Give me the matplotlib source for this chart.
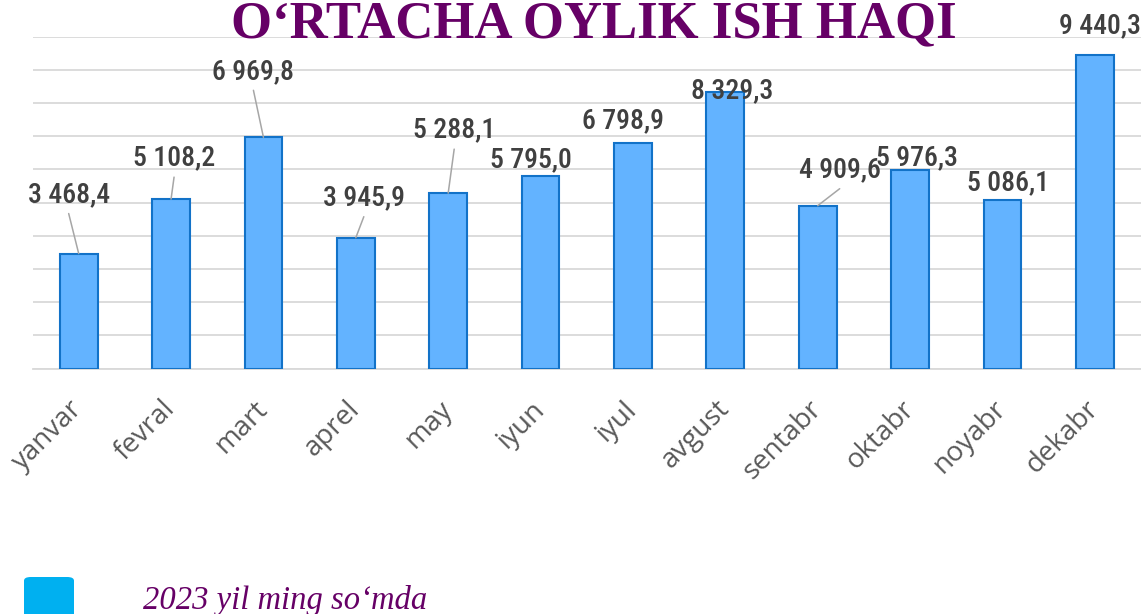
import matplotlib
matplotlib.use("Agg")
import matplotlib.pyplot as plt
from matplotlib import font_manager
from matplotlib.patches import FancyBboxPatch

months = ["yanvar", "fevral", "mart", "aprel", "may", "iyun",
          "iyul", "avgust", "sentabr", "oktabr", "noyabr", "dekabr"]
values = [3468.4, 5108.2, 6969.8, 3945.9, 5288.1, 5795.0,
          6798.9, 8329.3, 4909.6, 5976.3, 5086.1, 9440.3]
value_labels = ["3 468,4", "5 108,2", "6 969,8", "3 945,9", "5 288,1", "5 795,0",
                "6 798,9", "8 329,3", "4 909,6", "5 976,3", "5 086,1", "9 440,3"]
title = "O‘RTACHA OYLIK ISH HAQI"
legend_text = "2023 yil ming so‘mda"

# label placement (pixel offsets from bar top centre) and leader flags - style only
label_offsets = [(-10, 59), (3, 41), (-10, 66), (8, 40), (6, 63), (-10, 17),
                 (-10, 22), (7, 1), (22, 36), (7, 13), (6, 17), (5, 30)]
leaders = [True, True, True, True, True, False,
           False, False, True, False, False, False]

names = {f.name for f in font_manager.fontManager.ttflist}
cond = None
for cand in ["Roboto Condensed", "DejaVu Sans Condensed", "Liberation Sans Narrow",
             "Open Sans Condensed", "Noto Sans Condensed"]:
    if cand in names:
        cond = cand
        break
label_family = cond if cond else "Roboto"
label_size = 20 if cond else 16

W, H = 1141, 614
fig = plt.figure(figsize=(W / 100, H / 100), dpi=100)
ax = fig.add_axes([32.5 / W, 1 - 368.7 / H, (1141 - 32.5) / W, (368.7 - 36.7) / H])

x = list(range(len(months)))
ax.bar(x, values, width=0.41, color="#63B3FF", edgecolor="#1272C8", linewidth=1.5, zorder=3)

ax.set_xlim(-0.5, len(months) - 0.5)
ax.set_ylim(0, 10000)
ax.set_yticks(range(0, 10001, 1000))
ax.yaxis.grid(True, color="#D9D9D9", linewidth=1.3, zorder=0)
ax.tick_params(axis="y", left=False, labelleft=False)
ax.tick_params(axis="x", length=0, pad=26)
for s in ["top", "right", "left"]:
    ax.spines[s].set_visible(False)
ax.spines["bottom"].set_color("#D9D9D9")
ax.spines["bottom"].set_linewidth(1.3)
ax.set_xticks(x)
ax.set_xticklabels(months, rotation=45, ha="right", va="center", rotation_mode="anchor",
                   fontsize=20, color="#595959", family=["Open Sans", "DejaVu Sans"])
ax.set_axisbelow(True)

for i, (v, lab) in enumerate(zip(values, value_labels)):
    dx, dy = label_offsets[i]
    ax.annotate(lab, xy=(i, v), xytext=(dx, dy), textcoords="offset pixels",
                ha="center", va="center", fontsize=label_size, color="#404040",
                fontweight="medium",
                family=[label_family, "DejaVu Sans"], zorder=5, annotation_clip=False)
    if leaders[i]:
        ax.annotate("", xy=(i, v), xytext=(dx, dy - 19), textcoords="offset pixels",
                    arrowprops=dict(arrowstyle="-", color="#A6A6A6", lw=1.1,
                                    shrinkA=0, shrinkB=0), zorder=4, annotation_clip=False)

fig.text(594 / W, 1 - 37 / H, title, ha="center", va="baseline", fontsize=38,
         fontweight="bold", color="#660066", family=["Liberation Serif", "DejaVu Serif"])

sq = FancyBboxPatch((24 / W, 1 - 627 / H), 50 / W, 50 / H, transform=fig.transFigure,
                    boxstyle="round,pad=0,rounding_size=0.006", facecolor="#00B0F0",
                    edgecolor="none")
fig.patches.append(sq)
fig.text(143 / W, 1 - 609 / H, legend_text, ha="left", va="baseline", fontsize=23.5,
         style="italic", color="#660066", family=["Liberation Serif", "DejaVu Serif"])

fig.savefig("out.png", dpi=100)
